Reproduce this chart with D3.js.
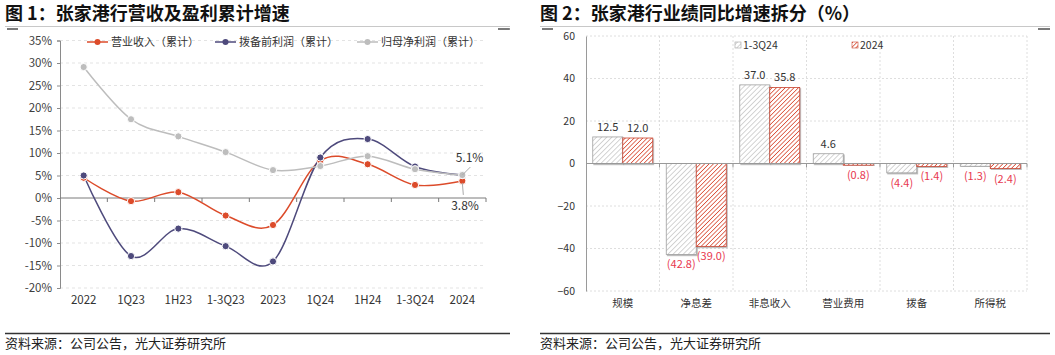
<!DOCTYPE html>
<html><head><meta charset="utf-8">
<script src="https://cdn.jsdelivr.net/npm/d3@7"></script>
<style>
body{margin:0;background:#fff;}
svg{display:block;font-family:"Noto Sans CJK SC","Noto Sans",sans-serif;}
</style></head>
<body>
<svg id="c" width="1055" height="355"></svg>
<script>
// ---------- data ----------
const periods = ["2022","1Q23","1H23","1-3Q23","2023","1Q24","1H24","1-3Q24","2024"];
const revenue = [4.5,-0.7,1.3,-3.9,-6.0,8.3,7.5,2.9,3.8];
const ppop    = [5.0,-12.9,-6.8,-10.7,-14.1,9.0,13.1,7.0,5.1];
const netProfit = [29.1,17.5,13.7,10.2,6.2,7.1,9.3,6.4,5.1];
const leftSeriesNames = ["营业收入（累计）","拨备前利润（累计）","归母净利润（累计）"];
const leftTicks = [-20,-15,-10,-5,0,5,10,15,20,25,30,35];

const factors = ["规模","净息差","非息收入","营业费用","拨备","所得税"];
const rightSeriesNames = ["1-3Q24","2024"];
const v1_3Q24 = [12.5,-42.8,37.0,4.6,-4.4,-1.3];
const v2024   = [12.0,-39.0,35.8,-0.8,-1.4,-2.4];
const rightTicks = [-60,-40,-20,0,20,40,60];

const svg = d3.select("#c");
const defs = svg.append("defs");

// ---------- frame / titles ----------
function frame(x0, x1, title){
  svg.append("text").attr("x",x0).attr("y",20).attr("font-size",18).attr("font-weight","bold")
    .attr("fill","#111").text(title);
  svg.append("line").attr("x1",x0).attr("x2",x1).attr("y1",26.5).attr("y2",26.5).attr("stroke","#c8c8c8").attr("stroke-width",1);
  svg.append("line").attr("x1",x0+2).attr("x2",x0+13).attr("y1",29).attr("y2",29).attr("stroke","#222").attr("stroke-width",1.2);
  svg.append("line").attr("x1",x1-12).attr("x2",x1).attr("y1",29).attr("y2",29).attr("stroke","#222").attr("stroke-width",1.2);
  svg.append("line").attr("x1",x0).attr("x2",x1).attr("y1",333.5).attr("y2",333.5).attr("stroke","#333").attr("stroke-width",1.3);
  svg.append("text").attr("x",x0).attr("y",348).attr("font-size",13).attr("fill","#222").text("资料来源：公司公告，光大证券研究所");
}
frame(5, 510, "图 1：张家港行营收及盈利累计增速");
frame(540, 1050, "图 2：张家港行业绩同比增速拆分（%）");

// ---------- left chart ----------
const xL = d3.scaleBand().domain(periods).range([60,486]).padding(0);
const yL = d3.scaleLinear().domain([-20,35]).range([288,40.5]);
const gL = svg.append("g");

gL.selectAll(".gl").data(leftTicks.filter(t=>t!==0)).join("line")
  .attr("x1",60).attr("x2",486).attr("y1",d=>yL(d)).attr("y2",d=>yL(d))
  .attr("stroke","#dcdcdc").attr("stroke-dasharray","3,3").attr("stroke-width",0.8);

const yAxL = gL.append("g").attr("transform","translate(60,0)")
  .call(d3.axisLeft(yL).tickValues(leftTicks).tickFormat(d=>d+"%").tickSize(3).tickPadding(5));
yAxL.select(".domain").attr("stroke","#8a8a8a");
yAxL.selectAll(".tick line").attr("stroke","#8a8a8a");
yAxL.selectAll("text").attr("font-size",11.5).attr("fill","#404040").attr("font-family",'"Noto Sans CJK SC",sans-serif');

// zero line with band-boundary ticks
gL.append("line").attr("x1",60).attr("x2",486).attr("y1",yL(0)).attr("y2",yL(0)).attr("stroke","#7a7a7a").attr("stroke-width",1);
gL.selectAll(".zt").data(periods).join("line")
  .attr("x1",d=>xL(d)+xL.bandwidth()).attr("x2",d=>xL(d)+xL.bandwidth())
  .attr("y1",yL(0)).attr("y2",yL(0)+4).attr("stroke","#7a7a7a");

gL.selectAll(".xl").data(periods).join("text")
  .attr("x",d=>xL(d)+xL.bandwidth()/2).attr("y",304).attr("text-anchor","middle")
  .attr("font-size",11.5).attr("fill","#333").text(d=>d);

const leftColors = ["#DC4B2A","#4E4A7C","#BDBDBD"];
const leftData = [revenue, ppop, netProfit];
const line = d3.line().x((d,i)=>xL(periods[i])+xL.bandwidth()/2).y(d=>yL(d)).curve(d3.curveCatmullRom.alpha(0));
leftData.forEach((arr,k)=>{
  gL.append("path").attr("d",line(arr)).attr("fill","none").attr("stroke",leftColors[k]).attr("stroke-width",1.5);
});
leftData.forEach((arr,k)=>{
  gL.selectAll(".m"+k).data(arr).join("circle")
    .attr("cx",(d,i)=>xL(periods[i])+xL.bandwidth()/2).attr("cy",d=>yL(d)).attr("r",3.6)
    .attr("fill",leftColors[k]).attr("stroke","#fff").attr("stroke-width",1);
});

// end labels
const lastX = xL(periods[8])+xL.bandwidth()/2;
gL.append("line").attr("x1",lastX).attr("y1",yL(netProfit[8])).attr("x2",lastX+8).attr("y2",yL(netProfit[8])-8).attr("stroke","#aaa");
gL.append("text").attr("x",469.5).attr("y",yL(netProfit[8])-13).attr("text-anchor","middle").attr("font-size",12).attr("fill","#333").text(d3.format(".1f")(netProfit[8])+"%");
gL.append("line").attr("x1",lastX).attr("y1",yL(revenue[8])+2).attr("x2",lastX+1).attr("y2",yL(revenue[8])+14).attr("stroke","#aaa");
gL.append("text").attr("x",465).attr("y",yL(revenue[8])+29).attr("text-anchor","middle").attr("font-size",12).attr("fill","#333").text(d3.format(".1f")(revenue[8])+"%");

// legend
const legL = [{x:87,t:leftSeriesNames[0]},{x:215,t:leftSeriesNames[1]},{x:357,t:leftSeriesNames[2]}];
legL.forEach((l,k)=>{
  const g = gL.append("g");
  g.append("line").attr("x1",l.x).attr("x2",l.x+21).attr("y1",42).attr("y2",42).attr("stroke",leftColors[k]).attr("stroke-width",1.5);
  g.append("circle").attr("cx",l.x+10.5).attr("cy",42).attr("r",3).attr("fill",leftColors[k]);
  g.append("text").attr("x",l.x+24).attr("y",46).attr("font-size",11).attr("fill","#333").text(l.t);
});

// ---------- right chart ----------
function hatch(id, color, width, spacing){
  const p = defs.append("pattern").attr("id",id).attr("patternUnits","userSpaceOnUse")
    .attr("width",spacing).attr("height",spacing).attr("patternTransform","rotate(45)");
  p.append("rect").attr("width",spacing).attr("height",spacing).attr("fill","#fff");
  p.append("line").attr("x1",0).attr("y1",0).attr("x2",0).attr("y2",spacing).attr("stroke",color).attr("stroke-width",width);
}
hatch("hGray","#a8a8a8",1,3.6);
hatch("hRed","#D8462E",1.5,3.1);
const f = defs.append("filter").attr("id","sh").attr("x","-10%").attr("y","-10%").attr("width","130%").attr("height","130%");
f.append("feDropShadow").attr("dx",1).attr("dy",1.2).attr("stdDeviation",0.6).attr("flood-color","#888").attr("flood-opacity",0.6);

const xR = d3.scaleBand().domain(factors).range([586,1027]).padding(0);
const xS = d3.scaleBand().domain(rightSeriesNames).range([0,xR.bandwidth()]).paddingInner(0).paddingOuter(0.225);
const yR = d3.scaleLinear().domain([-60,60]).range([291,36]);
const gR = svg.append("g");

gR.selectAll(".gh").data(rightTicks.filter(t=>t!==0)).join("line")
  .attr("x1",586).attr("x2",1027).attr("y1",d=>yR(d)).attr("y2",d=>yR(d))
  .attr("stroke","#d6d6d6").attr("stroke-dasharray","2,2").attr("stroke-width",0.8);
gR.selectAll(".gv").data(factors).join("line")
  .attr("x1",d=>xR(d)+xR.bandwidth()).attr("x2",d=>xR(d)+xR.bandwidth())
  .attr("y1",yR(60)).attr("y2",yR(-60))
  .attr("stroke","#d6d6d6").attr("stroke-dasharray","2,2").attr("stroke-width",0.8);

const yAxR = gR.append("g").attr("transform","translate(586,0)")
  .call(d3.axisLeft(yR).tickValues(rightTicks).tickSize(0).tickPadding(11));
yAxR.select(".domain").attr("stroke","#9a9a9a");
yAxR.selectAll("text").attr("font-size",10.5).attr("fill","#333").attr("font-family",'"Noto Sans CJK SC",sans-serif');

gR.selectAll(".xl").data(factors).join("text")
  .attr("x",d=>xR(d)+xR.bandwidth()/2).attr("y",307).attr("text-anchor","middle")
  .attr("font-size",10.5).attr("fill","#333").text(d=>d);

const rightData = [v1_3Q24, v2024];
const fills = ["url(#hGray)","url(#hRed)"];
const strokes = ["#a0a0a0","#C8432E"];
rightData.forEach((arr,k)=>{
  gR.selectAll(".b"+k).data(arr).join("rect")
    .attr("x",(d,i)=>xR(factors[i])+xS(rightSeriesNames[k]))
    .attr("width",xS.bandwidth())
    .attr("y",d=>yR(Math.max(0,d)))
    .attr("height",d=>Math.abs(yR(d)-yR(0)))
    .attr("fill",fills[k]).attr("stroke",strokes[k]).attr("stroke-width",0.8)
    .attr("filter","url(#sh)");
});

// zero line
gR.append("line").attr("x1",586).attr("x2",1027).attr("y1",yR(0)).attr("y2",yR(0)).attr("stroke","#999").attr("stroke-width",1);
gR.selectAll(".zt").data(factors).join("line")
  .attr("x1",d=>xR(d)+xR.bandwidth()).attr("x2",d=>xR(d)+xR.bandwidth())
  .attr("y1",yR(0)).attr("y2",yR(0)+4).attr("stroke","#999");

// value labels
const fmt = d3.format(".1f");
rightData.forEach((arr,k)=>{
  gR.selectAll(".v"+k).data(arr).join("text")
    .attr("x",(d,i)=>xR(factors[i])+xS(rightSeriesNames[k])+xS.bandwidth()/2)
    .attr("y",d=> d>=0 ? yR(d)-6 : yR(d)+14)
    .attr("text-anchor","middle").attr("font-size",11)
    .attr("fill",d=> d>=0 ? "#333" : "#E8384F")
    .text(d=> d>=0 ? fmt(d) : "("+fmt(-d)+")");
});

// legend
const legR = [{x:735,t:rightSeriesNames[0]},{x:852,t:rightSeriesNames[1]}];
legR.forEach((l,k)=>{
  gR.append("rect").attr("x",l.x).attr("y",42).attr("width",6).attr("height",6)
    .attr("fill",fills[k]).attr("stroke",strokes[k]).attr("stroke-width",0.6);
  gR.append("text").attr("x",l.x+8).attr("y",49).attr("font-size",10.5).attr("fill","#333").text(l.t);
});
</script>
</body></html>
